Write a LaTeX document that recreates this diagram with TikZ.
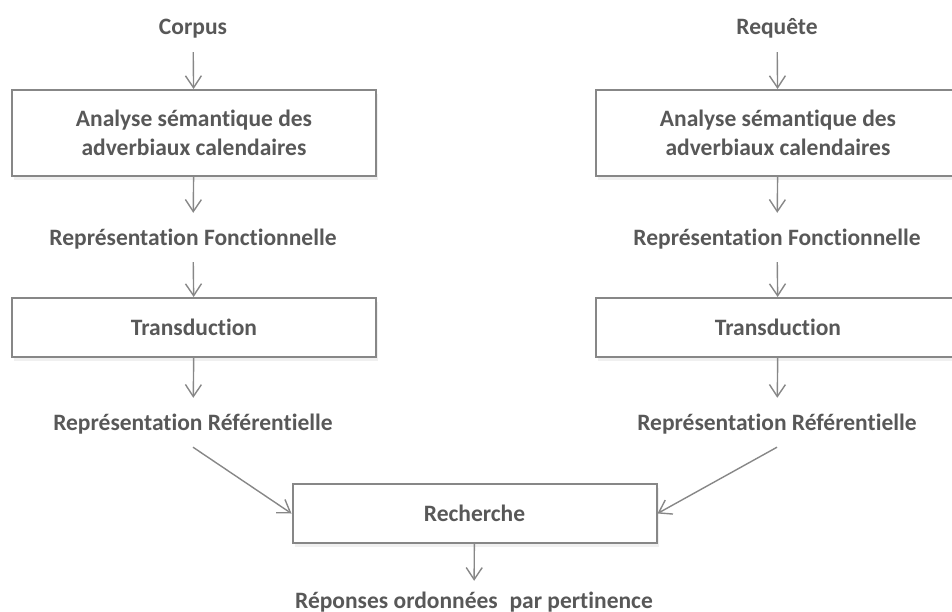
\documentclass[tikz,border=0pt]{standalone}
\usepackage{fontspec}
\setmainfont{Carlito}[Ligatures=NoCommon]
\definecolor{txtgray}{RGB}{88, 88, 88}
\definecolor{linegray}{RGB}{135, 135, 135}
\usepackage{tikz}
\usetikzlibrary{arrows.meta, shadows}
\tikzset{
    label/.style={inner xsep=0pt, inner ysep=12pt, text height=15pt, text depth=5pt, font=\fontsize{23.5}{29}\selectfont\bfseries, text=txtgray},
    stepbox/.style={draw=linegray, line width=2pt, rectangle, minimum width=364pt, align=center, font=\fontsize{23.5}{29}\selectfont\bfseries, text=txtgray, fill=white,
        drop shadow={opacity=0.12, shadow xshift=2pt, shadow yshift=-4pt}},
    flow/.style={-{Straight Barb[length=12pt, width=16pt, line width=1.4pt]}, line width=1.4pt, draw=linegray},
    tolabel/.style={flow, shorten >=5pt},
}

\begin{document}
\begin{tikzpicture}[x=1pt, y=-1pt]
    \clip (0,0) rectangle (952,612);

    % left column : corpus
    \node[label] (corpus) at (193,30) {Corpus};
    \node[stepbox, minimum height=86pt] (anaL) at (194,133) {Analyse sémantique des\\adverbiaux calendaires};
    \node[label] (fonL) at (193,240) {Représentation Fonctionnelle};
    \node[stepbox, minimum height=59pt] (transL) at (194,327.5) {Transduction};
    \node[label] (refL) at (193,425) {Représentation Référentielle};

    % right column : requete
    \node[label] (requete) at (777,30) {Requête};
    \node[stepbox, minimum height=86pt] (anaR) at (778,133) {Analyse sémantique des\\adverbiaux calendaires};
    \node[label] (fonR) at (777,240) {Représentation Fonctionnelle};
    \node[stepbox, minimum height=59pt] (transR) at (778,327.5) {Transduction};
    \node[label] (refR) at (777,425) {Représentation Référentielle};

    % search
    \node[stepbox, minimum height=59pt] (rech) at (474.5,513.5) {Recherche};
    \node[label] (reponses) at (474,603) {Réponses ordonnées\enspace par pertinence};

    \draw[flow] (corpus) -- (anaL);
    \draw[tolabel] (anaL) -- (fonL);
    \draw[flow] (fonL) -- (transL);
    \draw[tolabel] (transL) -- (refL);

    \draw[flow] (requete) -- (anaR);
    \draw[tolabel] (anaR) -- (fonR);
    \draw[flow] (fonR) -- (transR);
    \draw[tolabel] (transR) -- (refR);

    \draw[flow] (refL.south) -- (rech.west);
    \draw[flow] (refR.south) -- (rech.east);
    \draw[flow] (rech) -- (reponses);
\end{tikzpicture}
\end{document}
